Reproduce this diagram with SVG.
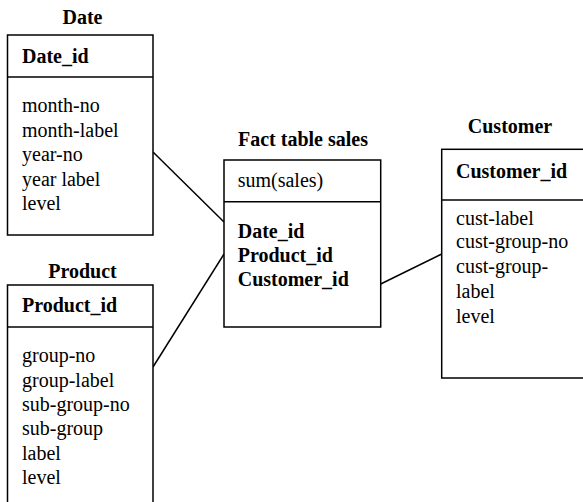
<svg xmlns="http://www.w3.org/2000/svg" width="583" height="502" viewBox="0 0 583 502">
<style>
.box{fill:#fff;stroke:#000;stroke-width:1.5}
.div{stroke:#000;stroke-width:1.5}
.title{font-family:"Liberation Serif",serif;font-weight:bold;font-size:20px;text-anchor:middle}
.key{font-family:"Liberation Serif",serif;font-weight:bold;font-size:20px}
.attr{font-family:"Liberation Serif",serif;font-size:20px}
.conn{stroke:#000;stroke-width:1.5;fill:none}
</style>
<rect width="583" height="502" fill="#fff"/>
<g id="connectors">
<line class="conn" x1="153" y1="152" x2="224" y2="222"/>
<line class="conn" x1="153" y1="367" x2="224" y2="254"/>
<line class="conn" x1="380.7" y1="284" x2="441.7" y2="254"/>
</g>
<g id="date">
<text class="title" x="82.5" y="23.5">Date</text>
<rect class="box" x="7.5" y="35" width="145.5" height="200"/>
<line class="div" x1="7.5" y1="77" x2="153" y2="77"/>
<text class="key" x="22" y="63">Date_id</text>
<text class="attr" x="22" y="112">month-no</text>
<text class="attr" x="22" y="137">month-label</text>
<text class="attr" x="22" y="161">year-no</text>
<text class="attr" x="22" y="186">year label</text>
<text class="attr" x="22" y="210">level</text>
</g>
<g id="product">
<text class="title" x="82.5" y="278">Product</text>
<rect class="box" x="7.5" y="285" width="145.5" height="230"/>
<line class="div" x1="7.5" y1="327" x2="153" y2="327"/>
<text class="key" x="22" y="312">Product_id</text>
<text class="attr" x="22" y="362">group-no</text>
<text class="attr" x="22" y="387">group-label</text>
<text class="attr" x="22" y="411">sub-group-no</text>
<text class="attr" x="22" y="435">sub-group</text>
<text class="attr" x="22" y="460">label</text>
<text class="attr" x="22" y="484">level</text>
</g>
<g id="fact">
<text class="title" x="303" y="146">Fact table sales</text>
<rect class="box" x="224" y="160" width="156.7" height="167"/>
<line class="div" x1="224" y1="201.7" x2="380.7" y2="201.7"/>
<text class="attr" x="237.7" y="187">sum(sales)</text>
<text class="key" x="237.7" y="238">Date_id</text>
<text class="key" x="237.7" y="262">Product_id</text>
<text class="key" x="237.7" y="286">Customer_id</text>
</g>
<g id="customer">
<text class="title" x="510" y="133">Customer</text>
<rect class="box" x="441.7" y="149.3" width="160" height="228.7"/>
<line class="div" x1="441.7" y1="200" x2="600" y2="200"/>
<text class="key" x="456" y="178">Customer_id</text>
<text class="attr" x="456" y="225">cust-label</text>
<text class="attr" x="456" y="248">cust-group-no</text>
<text class="attr" x="456" y="273">cust-group-</text>
<text class="attr" x="456" y="298">label</text>
<text class="attr" x="456" y="323">level</text>
</g>
</svg>
